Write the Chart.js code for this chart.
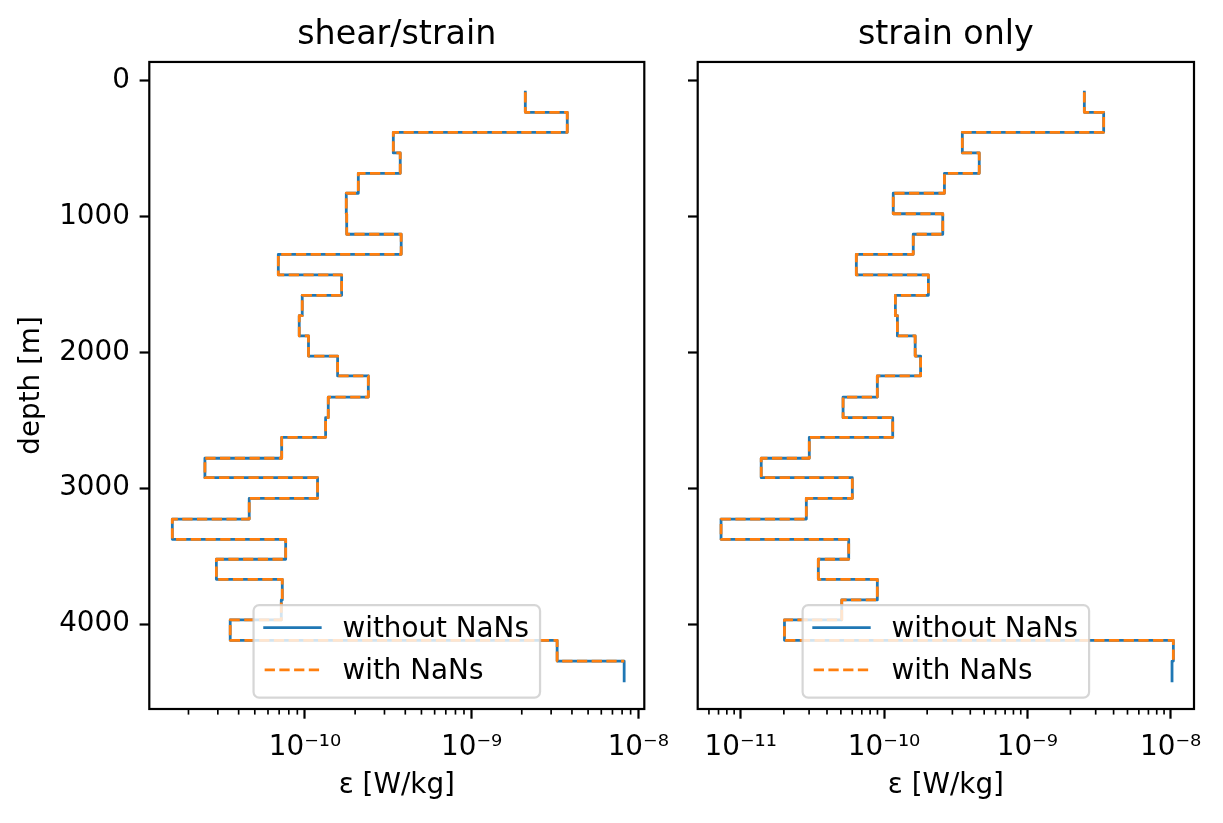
<!DOCTYPE html>
<html><head><meta charset="utf-8">
<script src="https://cdn.jsdelivr.net/npm/chart.js@4.4.1/dist/chart.umd.min.js"></script>
<style>
html,body{margin:0;padding:0;background:#fff;}
#wrap{position:relative;width:1223px;height:823px;overflow:hidden;}
#wrap canvas{position:absolute;left:0;top:0;}
</style></head><body>
<div id="wrap"><canvas id="c1" width="1223" height="823"></canvas><canvas id="c2" width="1223" height="823"></canvas></div>
<script>
// ---- data ----
const depthEdges = [83, 231, 378, 530, 680, 827, 978, 1129, 1277, 1429, 1579, 1729, 1878, 2026, 2173,
  2328, 2480, 2625, 2779, 2922, 3074, 3227, 3376, 3523, 3671, 3823, 3970, 4120, 4273, 4418];
const epsShearStrain = [2.10e-9, 3.75e-9, 3.39e-10, 3.73e-10, 2.09e-10, 1.77e-10, 1.78e-10, 3.78e-10, 6.92e-11,
  1.66e-10, 9.63e-11, 9.24e-11, 1.05e-10, 1.57e-10, 2.40e-10, 1.38e-10, 1.33e-10, 7.25e-11, 2.51e-11,
  1.19e-10, 4.63e-11, 1.60e-11, 7.66e-11, 2.94e-11, 7.31e-11, 7.21e-11, 3.56e-11, 3.26e-9, 8.23e-9];
const epsStrainOnly = [2.50e-9, 3.41e-9, 3.52e-10, 4.62e-10, 2.64e-10, 1.16e-10, 2.57e-10, 1.60e-10, 6.41e-11,
  2.04e-10, 1.20e-10, 1.24e-10, 1.65e-10, 1.80e-10, 8.98e-11, 5.18e-11, 1.15e-10, 3.01e-11, 1.39e-11,
  6.01e-11, 2.87e-11, 7.29e-12, 5.67e-11, 3.48e-11, 8.98e-11, 5.07e-11, 2.02e-11, 1.045e-8, 1.023e-8];
const panelTitles = ['shear/strain', 'strain only'];
const seriesLabels = ['without NaNs', 'with NaNs'];
const yTickValues = [0, 1000, 2000, 3000, 4000];
const xDecades = [1e-12, 1e-11, 1e-10, 1e-9, 1e-8, 1e-7];
const xAxisTitle = 'ε [W/kg]';
const yAxisTitle = 'depth [m]';

// ---- styling ----
const FS = 27.8;
const FONT = 'DejaVu Sans';
const BLUE = '#1f77b4', ORANGE = '#ff7f0e';
Chart.defaults.font.family = FONT;
Chart.defaults.color = '#000';

const SUP = {'-':'⁻','0':'⁰','1':'¹','2':'²','3':'³','4':'⁴','5':'⁵','6':'⁶','7':'⁷','8':'⁸','9':'⁹'};
function powLabel(v) {
  const e = Math.round(Math.log10(v));
  return '10' + String(e).split('').map(c => SUP[c]).join('');
}

function buildPoints(eps, includeLast) {
  const pts = eps.map((v, i) => ({x: v, y: depthEdges[i]}));
  if (includeLast) pts.push({x: eps[eps.length - 1], y: depthEdges[eps.length]});
  return pts;
}

const decorPlugin = {
  id: 'decor',
  afterDraw(chart) {
    const ctx = chart.ctx, ca = chart.chartArea, xs = chart.scales.x;
    ctx.save();
    // minor log ticks
    ctx.strokeStyle = '#000'; ctx.lineWidth = 1.67;
    const e0 = Math.floor(Math.log10(xs.min)), e1 = Math.ceil(Math.log10(xs.max));
    for (let e = e0; e <= e1; e++) {
      for (let k = 2; k <= 9; k++) {
        const v = k * Math.pow(10, e);
        if (v < xs.min || v > xs.max) continue;
        const px = xs.getPixelForValue(v);
        ctx.beginPath(); ctx.moveTo(px, ca.bottom); ctx.lineTo(px, ca.bottom + 5.6); ctx.stroke();
      }
    }
    // frame
    ctx.lineWidth = 2.2;
    ctx.strokeRect(ca.left, ca.top, ca.right - ca.left, ca.bottom - ca.top);
    // legend (lower center)
    const w = 286.5, h = 92.4, r = 5.6;
    const bx = (ca.left + ca.right) / 2 - w / 2, by = ca.bottom - 11.4 - h;
    ctx.beginPath();
    ctx.moveTo(bx + r, by); ctx.lineTo(bx + w - r, by); ctx.arcTo(bx + w, by, bx + w, by + r, r);
    ctx.lineTo(bx + w, by + h - r); ctx.arcTo(bx + w, by + h, bx + w - r, by + h, r);
    ctx.lineTo(bx + r, by + h); ctx.arcTo(bx, by + h, bx, by + h - r, r);
    ctx.lineTo(bx, by + r); ctx.arcTo(bx, by, bx + r, by, r); ctx.closePath();
    ctx.fillStyle = 'rgba(255,255,255,0.8)'; ctx.fill();
    ctx.strokeStyle = 'rgba(204,204,204,0.8)'; ctx.lineWidth = 2.2; ctx.stroke();
    const rows = [by + 22.4, by + 64.7];
    const hx0 = bx + 11.1, hx1 = hx0 + 55.6, tx = hx1 + 22.2;
    ctx.lineWidth = 2.78;
    ctx.beginPath(); ctx.strokeStyle = BLUE; ctx.lineCap = 'square'; ctx.setLineDash([]);
    ctx.moveTo(hx0, rows[0]); ctx.lineTo(hx1, rows[0]); ctx.stroke();
    ctx.beginPath(); ctx.strokeStyle = ORANGE; ctx.lineCap = 'butt'; ctx.setLineDash([10.28, 4.44]);
    ctx.moveTo(hx0, rows[1]); ctx.lineTo(hx1, rows[1]); ctx.stroke();
    ctx.setLineDash([]);
    ctx.fillStyle = '#000'; ctx.font = FS + 'px "' + FONT + '"'; ctx.textBaseline = 'alphabetic'; ctx.textAlign = 'left';
    ctx.fillText(seriesLabels[0], tx, rows[0] + 9.5);
    ctx.fillText(seriesLabels[1], tx, rows[1] + 9.5);
    ctx.restore();
  }
};

function makePanel(canvasId, title, eps, xmin, xmax, yAxisWidth, padRight, showYLabels) {
  return new Chart(document.getElementById(canvasId), {
    type: 'line',
    data: {
      datasets: [
        {label: seriesLabels[0], data: buildPoints(eps, true), borderColor: BLUE, borderWidth: 2.78,
         stepped: 'after', pointRadius: 0, fill: false, borderCapStyle: 'square', borderJoinStyle: 'round', order: 1},
        {label: seriesLabels[1], data: buildPoints(eps, false), borderColor: ORANGE, borderWidth: 2.78,
         stepped: 'after', pointRadius: 0, fill: false, borderDash: [10.28, 4.44], borderCapStyle: 'butt',
         borderJoinStyle: 'round', order: 0}
      ]
    },
    options: {
      responsive: false, animation: false, devicePixelRatio: 1,
      layout: {padding: {left: 0, right: padRight, top: 0, bottom: 0}},
      plugins: {
        legend: {display: false}, tooltip: {enabled: false},
        title: {display: true, text: title, fullSize: false, color: '#000',
                font: {family: FONT, size: 33.3, weight: 'normal', lineHeight: 1.2}, padding: {top: 15.5, bottom: 6.5}}
      },
      scales: {
        x: {
          type: 'logarithmic', min: xmin, max: xmax,
          afterBuildTicks: s => { s.ticks = xDecades.filter(v => v >= s.min && v <= s.max).map(v => ({value: v})); },
          ticks: {callback: v => powLabel(v), font: {family: FONT, size: FS}, color: '#000', padding: 12.5,
                  maxRotation: 0, autoSkip: false},
          grid: {drawOnChartArea: false, drawTicks: true, tickLength: 9.7, tickWidth: 2.2, tickColor: '#000'},
          border: {display: false},
          title: {display: true, text: xAxisTitle, color: '#000', font: {family: FONT, size: FS}, padding: {top: 0, bottom: 21}},
          afterFit: s => { s.height = 114; s.paddingLeft = 0; s.paddingRight = 0; }
        },
        y: {
          type: 'linear', reverse: true, min: -140, max: 4626,
          afterBuildTicks: s => { s.ticks = yTickValues.map(v => ({value: v})); },
          ticks: {callback: v => showYLabels ? String(v) : '', font: {family: FONT, size: FS}, color: '#000', padding: 9.7, autoSkip: false},
          grid: {drawOnChartArea: false, drawTicks: true, tickLength: 9.7, tickWidth: 2.2, tickColor: '#000'},
          border: {display: false},
          title: {display: showYLabels, text: yAxisTitle, color: '#000', font: {family: FONT, size: FS}, padding: {top: 15, bottom: 0}},
          afterFit: s => { s.width = yAxisWidth; s.paddingTop = 0; s.paddingBottom = 0; }
        }
      }
    },
    plugins: [decorPlugin]
  });
}

makePanel('c1', panelTitles[0], epsShearStrain, 1.164e-11, 1.087e-8, 149.3, 1223 - 644.3, true);
makePanel('c2', panelTitles[1], epsStrainOnly, 5.01e-12, 1.456e-8, 697.7, 1223 - 1194, false);
</script>
</body></html>
